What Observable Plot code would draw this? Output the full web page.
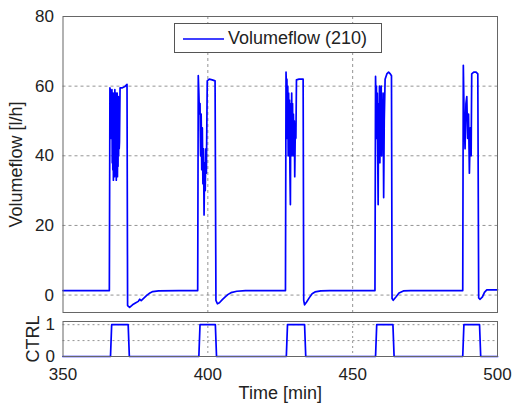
<!DOCTYPE html>
<html><head><meta charset="utf-8">
<script src="https://cdn.jsdelivr.net/npm/d3@7"></script>
<script src="https://cdn.jsdelivr.net/npm/@observablehq/plot@0.6"></script>
<style>
body{margin:0;background:#fff;}
#wrap{position:relative;width:515px;height:405px;font-family:"Liberation Sans",Arial,sans-serif;color:#222;}
#topChart,#bottomChart{position:absolute;left:0;}
#topChart{top:0;}
#bottomChart{top:312px;}
#legend{position:absolute;left:174px;top:23px;width:208px;height:30px;box-sizing:border-box;border:1px solid #555;background:#fff;font-size:18px;}
#legend svg{position:absolute;left:8px;top:13px;}
#legend span{position:absolute;left:53px;top:4px;white-space:nowrap;}
</style></head>
<body>
<div id="wrap"><div id="topChart"></div><div id="bottomChart"></div>
<div id="legend"><svg width="42" height="4"><line x1="0" x2="41" y1="2" y2="2" stroke="#0000ff" stroke-width="1.7"/></svg><span id="legtext"></span></div>
</div>
<script>
const seriesName = "Volumeflow (210)";
const yLabelTop = "Volumeflow [l/h]";
const yLabelBottom = "CTRL";
const xLabel = "Time [min]";
const xTicks = [350, 400, 450, 500];
const yTicksTop = [0, 20, 40, 60, 80];
const yTicksBottom = [0, 0.5, 1];
const yTickLabelsBottom = ["0", "", "1"];

const flowTime = [
  350,
  366.0,366.2,366.5,366.7,366.9,367.0,367.1,367.2,367.3,367.4,367.5,367.6,367.7,367.8,367.9,368.0,368.1,368.2,368.3,368.4,368.5,368.6,368.7,368.8,368.9,369.0,369.1,369.2,369.3,369.4,369.5,369.7,370.5,371.5,372.1,372.3,373.0,374.0,375.0,376,376.5,377,378,379,380,381,383,390,
  396.5,396.7,396.9,397.1,397.3,397.5,397.7,397.9,398.1,398.3,398.5,398.7,398.9,399.1,399.3,399.5,399.8,400.5,401.5,402.5,402.8,403.3,404,405,406,407,408,410,413,
  426.8,427.0,427.15,427.3,427.45,427.6,427.75,427.9,428.05,428.2,428.35,428.5,428.65,428.8,428.95,429.1,429.25,429.4,429.55,429.7,429.85,430.0,430.2,430.4,430.6,431.5,432.3,432.9,433.1,433.4,434.1,435,436,437,439,442,
  457.7,457.9,458.05,458.2,458.35,458.5,458.65,458.8,458.95,459.1,459.25,459.4,459.55,459.7,459.85,460.0,460.15,460.3,460.5,460.7,460.9,461.2,461.8,462.4,463.0,463.4,463.6,464.0,465,466,467.5,470,
  488.0,488.2,488.5,488.8,489.1,489.4,489.7,490.0,490.3,490.6,490.9,491.1,491.8,492.6,493.2,493.5,494.0,494.8,495.5,496.3,500
];
const flowValue = [
  1.3,
  1.3,59.5,58,45,59,38,57,36,58,33,57,35,58,34,59,36,57,35,58,33,57,36,58,34,56,37,57,40,56,42,44,59.5,59.5,60,60.5,-3,-3.5,-2.8,-2.3,-1.8,-1.2,-1.6,-0.8,0,0.6,1.0,1.2,1.3,
  1.3,63,58,52,55,40,52,36,48,32,42,23,38,30,42,35,61.5,62,61.8,61.5,-1.5,-2.5,-2.2,-1.3,-0.5,0.2,0.7,1.1,1.3,
  1.3,64,58,62,45,60,40,58,42,56,35,26,55,40,58,42,55,40,52,44,50,34,48,45,61.8,62,62,62,-1.5,-2.8,-2,-0.8,0.4,0.9,1.2,1.3,
  1.3,62.8,55,60,45,58,40,26,55,42,60,38,57,44,60,40,55,45,58,28,50,62,63.5,64,63.5,63,-1,-1.5,-0.5,0.6,1.2,1.3,
  1.3,66,50,42,55,57,45,52,35,48,40,63.5,64,64,63.5,-0.8,-1.2,-0.5,0.8,1.5,1.5
];
const ctrlTime = [350,366.4,366.8,372.5,372.9,396.9,397.3,402.6,403.0,427.1,427.5,433.4,433.8,457.9,458.3,463.9,464.3,488.0,488.4,493.8,494.2,500];
const ctrlValue = [0,0,1,1,0,0,1,1,0,0,1,1,0,0,1,1,0,0,1,1,0,0];

const flow = flowTime.map((t, i) => ({t, v: flowValue[i]}));
const ctrl = ctrlTime.map((t, i) => ({t, v: ctrlValue[i]}));

const FONT = '"Liberation Sans", Arial, sans-serif';
const BLUE = "#0000ff";
const GRID = {stroke: "#666", strokeOpacity: 1, strokeWidth: 0.7, strokeDasharray: "3,3"};
const common = {width: 515, marginLeft: 62.5, marginRight: 18, x: {domain: [350, 500]}};
const plotStyle = {fontFamily: FONT, fontSize: "17px", color: "#222", background: "transparent", overflow: "visible"};

const topPlot = Plot.plot({
  ...common, height: 316, marginTop: 16, marginBottom: 4,
  y: {domain: [-5, 80]},
  style: plotStyle,
  marks: [
    Plot.gridX(xTicks.slice(1, -1), GRID),
    Plot.gridY(yTicksTop.slice(0, -1), GRID),
    Plot.line(flow, {x: "t", y: "v", stroke: BLUE, strokeWidth: 1.7, strokeLinejoin: "round"}),
    Plot.frame({stroke: "#666", strokeWidth: 1}),
    Plot.axisY(yTicksTop, {anchor: "left", tickSize: 0, tickPadding: 9, label: null, fontSize: 17}),
    Plot.axisX(xTicks, {anchor: "bottom", tickSize: 0, tickFormat: () => "", label: null}),
    Plot.text([yLabelTop], {frameAnchor: "left", rotate: -90, dx: -47, lineAnchor: "middle", textAnchor: "middle", fontSize: 18, fill: "#222"})
  ]
});
document.getElementById("topChart").appendChild(topPlot);

const bottomPlot = Plot.plot({
  ...common, height: 93, marginTop: 9, marginBottom: 49,
  y: {domain: [0, 1.1]},
  style: plotStyle,
  marks: [
    Plot.gridX(xTicks.slice(1, -1), {...GRID, strokeDasharray: "2,3"}),
    Plot.gridY(yTicksBottom.slice(1), {...GRID, strokeDasharray: "2,3"}),
    Plot.line(ctrl, {x: "t", y: "v", stroke: BLUE, strokeWidth: 1.7}),
    Plot.frame({stroke: "#666", strokeWidth: 1}),
    Plot.axisY(yTicksBottom, {anchor: "left", tickSize: 0, tickPadding: 8, label: null, fontSize: 17,
      tickFormat: d => yTickLabelsBottom[yTicksBottom.indexOf(d)]}),
    Plot.axisX(xTicks, {anchor: "bottom", tickSize: 0, tickPadding: 11, label: null, fontSize: 17}),
    Plot.text([yLabelBottom], {frameAnchor: "left", rotate: -90, dx: -30, lineAnchor: "middle", textAnchor: "middle", fontSize: 18, fill: "#222"}),
    Plot.text([xLabel], {frameAnchor: "bottom", dy: 37, lineAnchor: "middle", textAnchor: "middle", fontSize: 18, fill: "#222"})
  ]
});
document.getElementById("bottomChart").appendChild(bottomPlot);

document.getElementById("legtext").textContent = seriesName;
</script>
</body></html>
